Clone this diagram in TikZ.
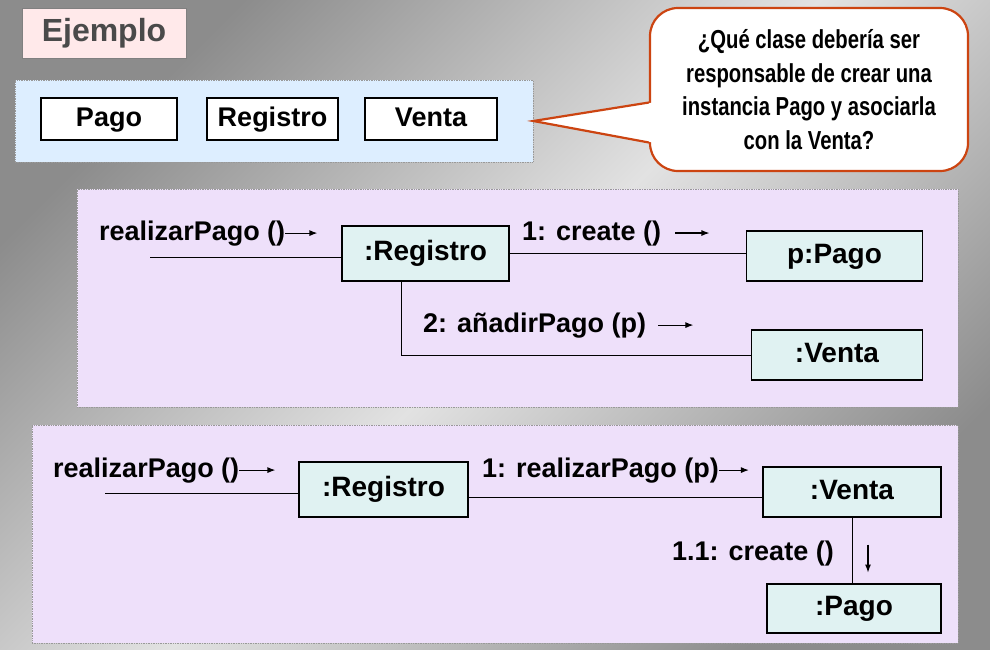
\documentclass[tikz,border=0pt]{standalone}
\usepackage{fontspec}
\setmainfont{Liberation Sans}
\newfontfamily\estrecha[FakeStretch=0.78]{Liberation Sans}
\usepackage{tikz}
\usetikzlibrary{positioning, arrows.meta, calc}
\definecolor{fondo}{HTML}{8C8C8C}
\definecolor{fondoclaro}{HTML}{E2E2E2}
\definecolor{rosa}{HTML}{FFE9EA}
\definecolor{azulclaro}{HTML}{DDEEFF}
\definecolor{lila}{HTML}{EEE0FA}
\definecolor{cian}{HTML}{E0F2F2}
\definecolor{rojo}{HTML}{CC4411}
\definecolor{grisoscuro}{HTML}{4A4A4A}

\begin{document}
\begin{tikzpicture}[
  x=1pt, y=-1pt,
  marco/.style={draw=gray!80, densely dotted, line width=0.7pt},
  clase/.style={draw=black, line width=1.1pt, fill=white, minimum height=42pt, inner sep=0pt, text height=20pt, text depth=6pt, font=\fontsize{27}{30}\selectfont\bfseries},
  objeto/.style={draw=black, line width=1.1pt, fill=cian, inner sep=0pt, text height=20pt, text depth=6pt, font=\fontsize{28}{30}\selectfont\bfseries},
  mensaje/.style={anchor=base west, inner sep=0pt, font=\fontsize{27}{30}\selectfont\bfseries},
  flecha/.style={-{Latex[length=8pt,width=6pt]}, line width=1.1pt},
  enlace/.style={line width=1pt},
]
% Fondo
\shade[top color=fondo, bottom color=fondo, middle color=fondoclaro, shading angle=45] (0,0) rectangle (990,649);
\useasboundingbox (0,0) rectangle (990,649);

% Titulo
\node[draw=gray, fill=rosa, minimum width=164pt, minimum height=50pt, text=grisoscuro, font=\fontsize{32}{34}\selectfont\bfseries] (titulo) at (104,33) {Ejemplo};

% Clases
\node[marco, fill=azulclaro, minimum width=518pt, minimum height=82pt] (clases) at (274,121) {};
\node[clase, minimum width=136pt] (pago) at (109,119) {Pago};
\node[clase, minimum width=131pt] (registro) at (272.5,119) {Registro};
\node[clase, minimum width=132pt] (venta) at (431,119) {Venta};

% Pregunta
\node[draw=rojo, line width=2.2pt, fill=white, rounded corners=28pt, minimum width=318pt, minimum height=163pt, align=center, font=\estrecha\fontsize{26}{33.5}\selectfont\bfseries] (pregunta) at (809,89.5) {¿Qué clase debería ser\\responsable de crear una\\instancia Pago y asociarla\\con la Venta?};
\coordinate (colasup) at ([yshift=-13pt]pregunta.west);
\coordinate (colainf) at ([yshift=-53pt]pregunta.west);
\fill[white] (clases.east) -- ([xshift=4pt]colasup) -- ([xshift=4pt]colainf) -- cycle;
\draw[rojo, line width=2.2pt] (colasup) -- (clases.east) -- (colainf);

% Primer diagrama
\node[marco, fill=lila, minimum width=881pt, minimum height=218pt] (diag1) at (517.5,298) {};
\node[objeto, minimum width=167pt, minimum height=55pt] (registro1) at (425.5,253.5) {:Registro};
\node[objeto, minimum width=176pt, minimum height=50pt] (ppago) at (834.5,256) {p:Pago};
\node[objeto, minimum width=171pt, minimum height=50pt] (venta1) at (837,355) {:Venta};
\coordinate (entrada1) at (150,257);
\draw[enlace] (entrada1) -- (entrada1 -| registro1.west);
\draw[enlace] (registro1.east) -- (registro1.east -| ppago.west);
\draw[enlace] ([xshift=-24.5pt]registro1.south) |- (venta1.west);

\node[mensaje] (llamada1) at (99,240) {realizarPago ()};
\draw[flecha] (llamada1.east) -- ++(32,0);
\node[mensaje] (crear1) at (522,240) {1: create ()};
\draw[flecha] ([xshift=14pt]crear1.east) -- ++(34,0);
\node[mensaje] (anadir) at (423,332) {2: añadirPago (p)};
\draw[flecha] ([xshift=12pt]anadir.east) -- ++(35,0);

% Segundo diagrama
\node[marco, fill=lila, minimum width=926pt, minimum height=218pt] (diag2) at (495,534) {};
\node[objeto, minimum width=169pt, minimum height=55pt] (registro2) at (383.5,489.5) {:Registro};
\node[objeto, minimum width=178pt, minimum height=50pt] (venta2) at (852,492) {:Venta};
\node[objeto, minimum width=174pt, minimum height=49pt] (pago2) at (854,608.5) {:Pago};
\coordinate (entrada2) at (105,493);
\draw[enlace] (entrada2) -- (entrada2 -| registro2.west);
\draw[enlace] ($(registro2.east)+(0,8)$) -- ($(registro2.east -| venta2.west)+(0,8)$);
\draw[enlace] (venta2.south) -- (venta2.south |- pago2.north);

\node[mensaje] (llamada2) at (53,477) {realizarPago ()};
\draw[flecha] (llamada2.east) -- ++(36,0);
\node[mensaje] (realizar2) at (482,477) {1: realizarPago (p)};
\draw[flecha] (realizar2.east) -- ++(30,0);
\node[mensaje] (crear2) at (672,560) {1.1: create ()};
\draw[flecha] ($(venta2.south)+(16,27)$) -- ++(0,28);

\end{tikzpicture}
\end{document}
